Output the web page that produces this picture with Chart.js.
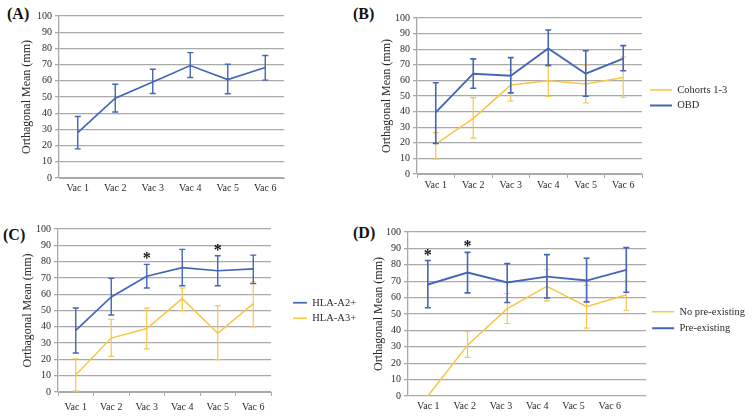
<!DOCTYPE html>
<html lang="en">
<head>
    <meta charset="UTF-8">
    <title>Orthagonal Mean</title>
    <script src="https://cdn.jsdelivr.net/npm/chart.js"></script>
    <style>
        body { margin: 0; background: #fff; width: 755px; height: 416px; position: relative; overflow: hidden; font-family: "Liberation Serif", serif; }
        canvas { position: absolute; }
        .tag { position: absolute; font-weight: bold; font-size: 16px; line-height: 18px; color: #111; }
    </style>
</head>
<body>
    <div class="tag" style="left:7px;top:5px">(A)</div>
    <div class="tag" style="left:353px;top:5px">(B)</div>
    <div class="tag" style="left:3px;top:226px">(C)</div>
    <div class="tag" style="left:353px;top:224px">(D)</div>
    <canvas id="chartA" style="left:0px;top:0px" width="300" height="203"></canvas>
    <canvas id="chartB" style="left:372px;top:0px" width="383" height="199"></canvas>
    <canvas id="chartC" style="left:0px;top:205px" width="370" height="212"></canvas>
    <canvas id="chartD" style="left:368px;top:205px" width="387" height="216"></canvas>
    <script>
        const vacLabels = ['Vac 1', 'Vac 2', 'Vac 3', 'Vac 4', 'Vac 5', 'Vac 6'];

        // (A)
        const allMean = [28, 49.3, 59.3, 69.4, 60.8, 68.2];
        const allLow  = [18, 40.7, 52.2, 62, 52, 60.4];
        const allHigh = [38, 57.9, 67.1, 77.4, 70.2, 75.6];

        // (B)
        const cohortMean = [19.2, 35.7, 57, 59.8, 57.7, 61.9];
        const cohortLow  = [9.6, 23, 46.8, 49.8, 45.5, 49.2];
        const cohortHigh = [26.5, 48.9, 66.5, 69.5, 70, 75];
        const obdMean = [39.5, 64.3, 63, 80.5, 64.3, 74];
        const obdLow  = [19.6, 55, 52, 69.6, 49.8, 66.2];
        const obdHigh = [58.5, 73.8, 74.6, 92.3, 79, 82.3];

        // (C)
        const a2Mean = [37.8, 58.3, 71, 76.3, 74.4, 75.5];
        const a2Low  = [23.9, 47.2, 63.8, 65.2, 65.2, 66.5];
        const a2High = [51.5, 69.7, 78.3, 87.5, 83.6, 84];
        const a3Mean = [10.6, 33.1, 38.9, 57.3, 36, 54.2];
        const a3Low  = [0.5, 21.9, 26.4, 49.9, 19.8, 39.9];
        const a3High = [20.4, 44.6, 51.5, 63.8, 53, 67.5];
        const starsC = [false, false, true, false, true, false];

        // (D)
        const noPreMean = [0, 31, 53.3, 66.9, 54.4, 61.7];
        const noPreLow  = [null, 23.5, 44.2, 58, 41.4, 52.3];
        const noPreHigh = [null, 39.4, 62.5, 77.3, 67.5, 70];
        const preMean = [68, 75.3, 69.2, 72.8, 70.4, 76.9];
        const preLow  = [53.8, 62.9, 57, 59.8, 57.4, 63.3];
        const preHigh = [82.6, 87.6, 80.7, 86.2, 84, 90.5];
        const starsD = [true, true, false, false, false, false];

        const BLUE = '#4565b8';
        const YELLOW = '#f8c646';
        const GRID = '#a9a9a9';
        const TEXT = '#2a2a2a';
        const SERIF = 'Liberation Serif';

        // error bars drawn right after each dataset so the layering follows the lines
        const errorBars = {
            id: 'errorBars',
            afterDatasetDraw(chart, args) {
                const ds = chart.data.datasets[args.index];
                if (!ds.errLow) return;
                const y = chart.scales.y;
                const area = chart.chartArea;
                const ctx = chart.ctx;
                ctx.save();
                ctx.beginPath();
                ctx.rect(area.left, area.top - 3, area.right - area.left, area.bottom - area.top + 3);
                ctx.clip();
                ctx.strokeStyle = ds.borderColor;
                ctx.lineWidth = ds.errWidth;
                args.meta.data.forEach((pt, i) => {
                    if (ds.errLow[i] == null) return;
                    const lo = y.getPixelForValue(ds.errLow[i]);
                    const hi = y.getPixelForValue(ds.errHigh[i]);
                    ctx.beginPath();
                    ctx.moveTo(pt.x, lo); ctx.lineTo(pt.x, hi);
                    ctx.moveTo(pt.x - 3, lo); ctx.lineTo(pt.x + 3, lo);
                    ctx.moveTo(pt.x - 3, hi); ctx.lineTo(pt.x + 3, hi);
                    ctx.stroke();
                });
                ctx.restore();
            }
        };

        const stars = {
            id: 'stars',
            afterDatasetsDraw(chart, args, opts) {
                if (!opts.flags) return;
                const ds = chart.data.datasets[opts.dataset];
                const meta = chart.getDatasetMeta(opts.dataset);
                const ctx = chart.ctx;
                ctx.save();
                ctx.fillStyle = '#111';
                ctx.font = 'bold 16px "' + SERIF + '"';
                ctx.textAlign = 'center';
                ctx.textBaseline = 'alphabetic';
                opts.flags.forEach((on, i) => {
                    if (!on) return;
                    const hi = chart.scales.y.getPixelForValue(ds.errHigh[i]);
                    ctx.fillText('*', meta.data[i].x, hi - 1);
                });
                ctx.restore();
            }
        };

        function line(label, color, mean, low, high, width, order) {
            return {
                label: label,
                data: mean,
                errLow: low,
                errHigh: high,
                errWidth: width,
                borderColor: color,
                backgroundColor: color,
                borderWidth: width + 0.3,
                pointRadius: 0,
                tension: 0,
                fill: false,
                order: order
            };
        }

        function makePanel(id, datasets, o) {
            const xAxis = {
                offset: true,
                grid: { display: o.xTicks, drawTicks: o.xTicks, drawOnChartArea: false, offset: true, tickLength: 4, color: GRID },
                border: { color: GRID },
                ticks: { color: TEXT, font: { family: SERIF, size: 10 }, padding: o.xPad, autoSkip: false, maxRotation: 0 }
            };
            const scales = {
                x: xAxis,
                y: {
                    min: 0, max: 100,
                    ticks: { stepSize: 10, autoSkip: false, color: TEXT, font: { family: SERIF, size: 10 }, padding: 3 },
                    grid: { color: GRID, lineWidth: 1.3, tickLength: 4 },
                    border: { color: GRID, width: 1.3 },
                    title: { display: true, text: 'Orthagonal Mean (mm)', color: TEXT, font: { family: SERIF, size: 12 }, padding: { top: o.titlePad, bottom: 0 } },
                    afterFit: s => { s.width = o.yWidth; }
                }
            };
            if (o.shiftLabels) {
                // in (D) the category labels sit on their own spacing, not under the points
                xAxis.display = false;
                scales.x2 = {
                    type: 'linear', position: 'bottom', min: 0.44, max: 7.0,
                    grid: { display: false, drawTicks: false },
                    border: { display: false },
                    ticks: { stepSize: 1, includeBounds: false, autoSkip: false, maxRotation: 0, color: TEXT, font: { family: SERIF, size: 10 }, padding: o.xPad,
                        callback: v => vacLabels[v - 1] || '' },
                    afterFit: s => { s.height = 25; }
                };
            } else {
                xAxis.afterFit = s => { s.height = 25; };
            }
            if (o.legend) {
                scales.gap = {
                    type: 'linear', position: 'right', display: true,
                    grid: { display: false, drawTicks: false }, border: { display: false }, ticks: { display: false },
                    afterFit: s => { s.width = o.gap; }
                };
            }
            const chart = new Chart(document.getElementById(id), {
                type: 'line',
                data: { labels: vacLabels, datasets: datasets },
                options: {
                    responsive: false,
                    animation: false,
                    layout: { padding: { top: o.top, right: o.right, left: 0, bottom: 0 } },
                    plugins: {
                        tooltip: { enabled: false },
                        legend: {
                            display: !!o.legend,
                            position: 'right',
                            fullSize: false,
                            maxWidth: 200,
                            title: { display: o.legendShift > 0, text: '', font: { size: o.legendShift }, padding: 0 },
                            labels: {
                                usePointStyle: true, pointStyle: 'line', pointStyleWidth: o.boxW || 22,
                                padding: o.legendPad || 5,
                                color: TEXT, font: { family: SERIF, size: 10.5 },
                                sort: (a, b) => a.datasetIndex - b.datasetIndex
                            }
                        },
                        stars: o.stars || {}
                    },
                    scales: scales
                },
                plugins: [errorBars, stars]
            });
            // pin the plot area's right edge
            const diff = o.areaRight - chart.chartArea.right;
            if (Math.abs(diff) > 0.5) {
                chart.options.layout.padding.right = Math.max(0, o.right - diff);
                chart.update();
            }
            return chart;
        }

        makePanel('chartA', [
            line('All', BLUE, allMean, allLow, allHigh, 1.4, 0)
        ], { yWidth: 59, titlePad: 20, top: 16, right: 16, areaRight: 284, xTicks: false, xPad: 4 });

        makePanel('chartB', [
            line('Cohorts 1-3', YELLOW, cohortMean, cohortLow, cohortHigh, 1.2, 1),
            line('OBD', BLUE, obdMean, obdLow, obdHigh, 1.6, 0)
        ], { yWidth: 45, titlePad: 8, top: 18, right: 20, areaRight: 270, xTicks: true, xPad: 1, legend: true, gap: 3, legendPad: 5, legendShift: 3 });

        makePanel('chartC', [
            line('HLA-A2+', BLUE, a2Mean, a2Low, a2High, 1.4, 0),
            line('HLA-A3+', YELLOW, a3Mean, a3Low, a3High, 1.2, 1)
        ], { yWidth: 58, titlePad: 21, top: 24, right: 20, areaRight: 271, xTicks: true, xPad: 5, legend: true, gap: 17, legendPad: 5, boxW: 14, legendShift: 0,
             stars: { flags: starsC, dataset: 0 } });

        makePanel('chartD', [
            line('No pre-existing', YELLOW, noPreMean, noPreLow, noPreHigh, 1.2, 1),
            line('Pre-existing', BLUE, preMean, preLow, preHigh, 1.6, 0)
        ], { yWidth: 40, titlePad: 4, top: 27, right: 10, areaRight: 287, xTicks: false, xPad: 4, shiftLabels: true, legend: true, gap: 0, legendPad: 6, legendShift: 10,
             stars: { flags: starsD, dataset: 1 } });
    </script>
</body>
</html>
